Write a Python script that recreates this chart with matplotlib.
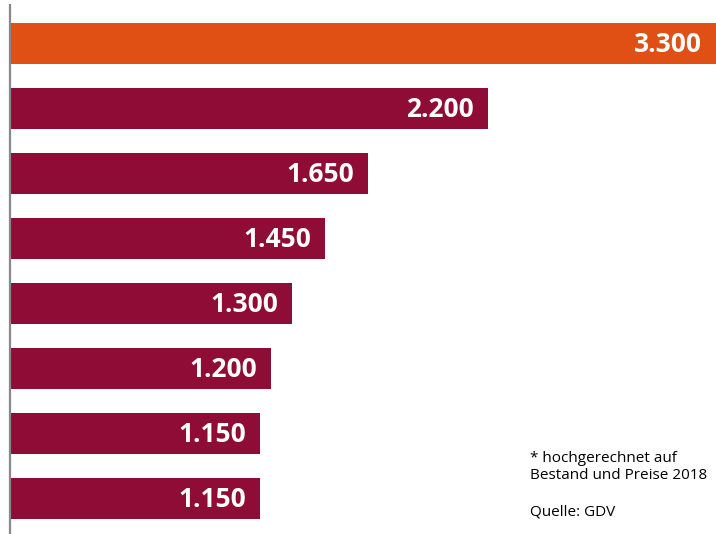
import numpy as np
import matplotlib.pyplot as plt

# values (Euro), top to bottom
values = [3300, 2200, 1650, 1450, 1300, 1200, 1150, 1150]
labels = ['3.300', '2.200', '1.650', '1.450', '1.300', '1.200', '1.150', '1.150']
colors = ['#E04F13'] + ['#8E0C35'] * 7

note = '* hochgerechnet auf\nBestand und Preise 2018'
source = 'Quelle: GDV'

W, H = 716, 534
fig = plt.figure(figsize=(W / 100, H / 100), dpi=100)
ax = fig.add_axes([10 / W, 0, 1 - 10 / W, 529 / H])

y = np.arange(len(values))
xmax = 3250
ax.barh(y, values, height=0.63, color=colors, zorder=1)
ax.set_xlim(0, xmax)
ax.set_ylim(7.546, -0.592)

for yi, v, lab in zip(y, values, labels):
    ax.annotate(lab, xy=(min(v, xmax), yi), xytext=(-10, -0.5),
                textcoords='offset points', ha='right', va='center',
                color='white', fontsize=19, fontweight='bold',
                family='Open Sans', zorder=3)

for s in ['top', 'right', 'bottom']:
    ax.spines[s].set_visible(False)
ax.spines['left'].set_color('#888888')
ax.spines['left'].set_linewidth(1.6)
ax.spines['left'].set_zorder(4)
ax.set_xticks([])
ax.set_yticks([])

fig.text(530 / W, 1 - 451 / H, note, fontsize=11, family='Open Sans',
         va='top', ha='left', linespacing=1.2)
fig.text(530 / W, 1 - 504 / H, source, fontsize=11, family='Open Sans',
         va='top', ha='left')

fig.savefig('out.png', dpi=100)
